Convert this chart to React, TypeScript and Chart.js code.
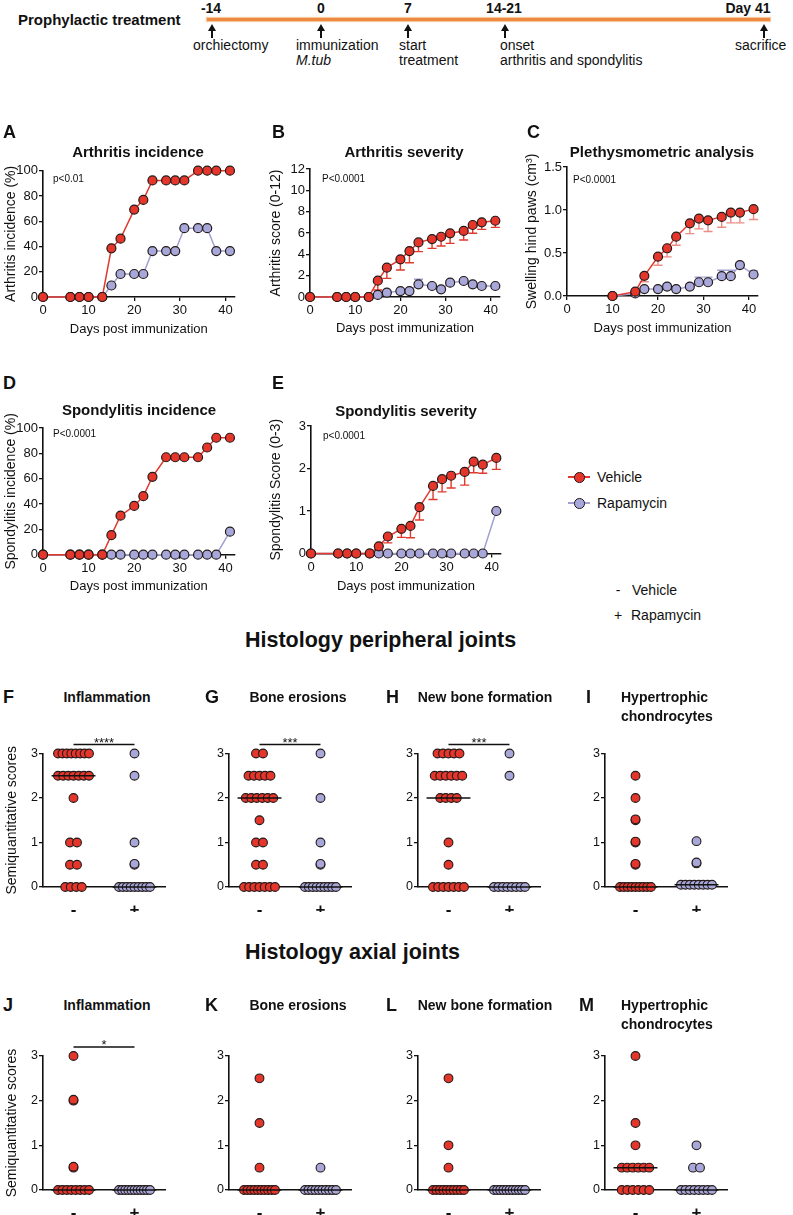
import React, { useEffect, useRef } from 'react';
import { Chart, registerables } from 'chart.js';

Chart.register(...registerables);

const FONT = '"Liberation Sans", Arial, Helvetica, sans-serif';
Chart.defaults.font.family = FONT;
Chart.defaults.color = '#111';

const RED = '#E4362B';
const RED_LINE = '#E0392E';
const RED_ERR_LIGHT = '#EC8D84';
const BLUE = '#A7A8D9';
const BLUE_LINE = '#A0A1D2';
const EDGE = '#241a1a';
const INK = '#111';

// ---------------- Data: disease course ----------------
const days = [0, 6, 8, 10, 13, 15, 17, 20, 22, 24, 27, 29, 31, 34, 36, 38, 41];
const daysPlethysmometry = [10, 15, 17, 20, 22, 24, 27, 29, 31, 34, 36, 38, 41];
const dayTicks = [0, 10, 20, 30, 40];

const arthritisIncidenceVehicle = [0, 0, 0, 0, 0, 38.5, 46.2, 69.2, 76.9, 92.3, 92.3, 92.3, 92.3, 100, 100, 100, 100];
const arthritisIncidenceRapamycin = [0, 0, 0, 0, 0, 9.1, 18.2, 18.2, 18.2, 36.4, 36.4, 36.4, 54.5, 54.5, 54.5, 36.4, 36.4];

const arthritisScoreVehicle = [0, 0, 0, 0, 0, 1.53, 2.75, 3.53, 4.31, 5.12, 5.43, 5.65, 5.97, 6.19, 6.75, 7.0, 7.15];
const arthritisScoreVehicleSem = [0, 0, 0, 0, 0, 0.87, 1.0, 1.0, 1.1, 0.87, 0.87, 0.87, 0.94, 0.85, 0.78, 0.66, 0.62];
const arthritisScoreRapamycin = [0, 0, 0, 0, 0, 0.19, 0.41, 0.56, 0.56, 1.19, 1.03, 0.72, 1.34, 1.5, 1.19, 1.03, 1.03];
const arthritisScoreRapamycinSem = [0, 0, 0, 0, 0, 0.08, 0.12, 0.15, 0.12, 0.47, 0.2, 0.15, 0.2, 0.2, 0.15, 0.12, 0.12];

const pawSwellingVehicle = [0, 0.05, 0.235, 0.457, 0.555, 0.69, 0.845, 0.9, 0.88, 0.92, 0.97, 0.97, 1.01];
const pawSwellingVehicleSem = [0, 0.02, 0.07, 0.1, 0.1, 0.1, 0.12, 0.12, 0.13, 0.12, 0.12, 0.12, 0.12];
const pawSwellingRapamycin = [0, 0.03, 0.08, 0.08, 0.11, 0.08, 0.11, 0.16, 0.16, 0.23, 0.23, 0.36, 0.25];
const pawSwellingRapamycinSem = [0, 0.01, 0.02, 0.02, 0.03, 0.02, 0.03, 0.06, 0.06, 0.07, 0.07, 0.03, 0.04];

const spondylitisIncidenceVehicle = [0, 0, 0, 0, 0, 15.4, 30.8, 38.5, 46.2, 61.5, 76.9, 76.9, 76.9, 76.9, 84.6, 92.3, 92.3];
const spondylitisIncidenceRapamycin = [0, 0, 0, 0, 0, 0, 0, 0, 0, 0, 0, 0, 0, 0, 0, 0, 18.2];

const spondylitisScoreVehicle = [0, 0, 0, 0, 0, 0.17, 0.4, 0.58, 0.65, 1.09, 1.59, 1.75, 1.83, 1.92, 2.16, 2.09, 2.25];
const spondylitisScoreVehicleSem = [0, 0, 0, 0, 0, 0.1, 0.15, 0.2, 0.28, 0.3, 0.32, 0.3, 0.29, 0.31, 0.26, 0.2, 0.27];
const spondylitisScoreRapamycin = [0, 0, 0, 0, 0, 0, 0, 0, 0, 0, 0, 0, 0, 0, 0, 0, 1.0];

const percentTicks = [0, 20, 40, 60, 80, 100];
const score12Ticks = [0, 2, 4, 6, 8, 10, 12];
const pawTicks = [0, 0.5, 1.0, 1.5];
const score3Ticks = [0, 1, 2, 3];

// ---------------- Data: histology (semiquantitative scores) ----------------
const groupLabels = ['-', '+'];
const histologyTicks = [0, 1, 2, 3];

const periInflammationVehicle = [3, 3, 3, 3, 3, 3, 3, 3, 2.5, 2.5, 2.5, 2.5, 2.5, 2.5, 2.5, 2, 1, 1, 0.5, 0.5, 0, 0, 0, 0];
const periInflammationRapamycin = [3, 2.5, 1, 0.5, 0.52, 0, 0, 0, 0, 0, 0, 0, 0, 0];
const periErosionVehicle = [3, 3, 2.5, 2.5, 2.5, 2.5, 2.5, 2, 2, 2, 2, 2, 2, 1.5, 1, 1, 0.5, 0.5, 0, 0, 0, 0, 0, 0, 0];
const periErosionRapamycin = [3, 2, 1, 0.5, 0.52, 0, 0, 0, 0, 0, 0, 0, 0, 0];
const periNewBoneVehicle = [3, 3, 3, 3, 3, 2.5, 2.5, 2.5, 2.5, 2.5, 2.5, 2, 2, 2, 2, 1, 0.5, 0, 0, 0, 0, 0, 0, 0];
const periNewBoneRapamycin = [3, 2.5, 0, 0, 0, 0, 0, 0, 0, 0];
const periChondroVehicle = [2.5, 2, 1.5, 1.52, 1, 1.02, 0.5, 0.52, 0, 0, 0, 0, 0, 0, 0, 0, 0];
const periChondroRapamycin = [1.03, 0.53, 0.55, 0.05, 0.05, 0.05, 0.05, 0.05, 0.05, 0.05, 0.05];

const axialInflammationVehicle = [3, 2, 2.02, 0.5, 0.52, 0, 0, 0, 0, 0, 0, 0, 0];
const axialInflammationRapamycin = [0, 0, 0, 0, 0, 0, 0, 0, 0, 0, 0];
const axialErosionVehicle = [2.5, 1.5, 0.5, 0, 0, 0, 0, 0, 0, 0, 0, 0, 0];
const axialErosionRapamycin = [0.5, 0, 0, 0, 0, 0, 0, 0, 0, 0, 0];
const axialNewBoneVehicle = [2.5, 1, 0.5, 0, 0, 0, 0, 0, 0, 0, 0, 0, 0];
const axialNewBoneRapamycin = [0, 0, 0, 0, 0, 0, 0, 0, 0, 0, 0];
const axialChondroVehicle = [3, 1.5, 1, 0.5, 0.5, 0.5, 0.5, 0.5, 0.5, 0, 0, 0, 0, 0, 0];
const axialChondroRapamycin = [1, 0.5, 0.5, 0, 0, 0, 0, 0, 0, 0, 0];

// ---------------- Timeline ----------------
const timelineTicks = ['-14', '0', '7', '14-21', 'Day 41'];
const timelineEvents = [['orchiectomy'], ['immunization', 'M.tub'], ['start', 'treatment'], ['onset', 'arthritis and spondylitis'], ['sacrifice']];

// ---------------- Layout ----------------
const DAY_MAX = 42;
const TL_TICK_X = [211, 321, 408, 504, 748];
const TL_ARROW_X = [212, 321, 408, 505, 764];
const TL_EVENT_X = [193, 296, 399, 500, 735];

type Frame = {
  left: number; top: number; width: number; height: number;
  yWidth: number; xHeight: number; padTop: number; padRight: number;
  yTitlePad: number; xTitlePad: number;
};

function makeFrame(area: number[], opts: { yTitleX?: number; xTitleY?: number; padTop: number; padRight: number; bottomSpace?: number; leftSpace?: number; yTitleSize?: number; xTitleSize?: number }): Frame {
  const [l, t, r, b] = area;
  let left: number; let yTitlePad = 0;
  if (opts.yTitleX !== undefined) {
    const lh = (opts.yTitleSize || 14) * 1.2;
    const exact = opts.yTitleX - lh / 2;
    left = Math.floor(exact);
    yTitlePad = exact - left;
  } else {
    left = Math.floor(l - (opts.leftSpace || 24));
  }
  const top = Math.floor(t - opts.padTop);
  const right = Math.ceil(r + opts.padRight);
  let bottom: number; let xTitlePad = 0;
  if (opts.xTitleY !== undefined) {
    const lh = (opts.xTitleSize || 13) * 1.2;
    const exact = opts.xTitleY + lh / 2;
    bottom = Math.ceil(exact);
    xTitlePad = bottom - exact;
  } else {
    bottom = Math.ceil(b + (opts.bottomSpace || 25));
  }
  return {
    left, top, width: right - left, height: bottom - top,
    yWidth: l - left, xHeight: bottom - b, padTop: t - top, padRight: right - r,
    yTitlePad, xTitlePad,
  };
}

function errorBarPlugin(sets: { index: number; errors: number[]; dir: number; color: string }[]) {
  return {
    id: 'errorBars',
    beforeDatasetsDraw(chart: any) {
      const { ctx } = chart;
      const y = chart.scales.y;
      ctx.save();
      sets.forEach((set) => {
        const meta = chart.getDatasetMeta(set.index);
        const data = chart.data.datasets[set.index].data;
        meta.data.forEach((pt: any, i: number) => {
          const e = set.errors[i];
          if (!e) return;
          const end = y.getPixelForValue(data[i].y + set.dir * e);
          ctx.strokeStyle = set.color;
          ctx.lineWidth = 1.4;
          ctx.beginPath();
          ctx.moveTo(pt.x, pt.y);
          ctx.lineTo(pt.x, end);
          ctx.moveTo(pt.x - 4.5, end);
          ctx.lineTo(pt.x + 4.5, end);
          ctx.stroke();
        });
      });
      ctx.restore();
    },
  };
}

function bracketPlugin(level: number) {
  return {
    id: 'sigBracket',
    afterDatasetsDraw(chart: any) {
      const { ctx } = chart;
      const { x, y } = chart.scales;
      const yy = y.getPixelForValue(level);
      ctx.save();
      ctx.strokeStyle = INK;
      ctx.lineWidth = 1.5;
      ctx.beginPath();
      ctx.moveTo(x.getPixelForValue(0), yy);
      ctx.lineTo(x.getPixelForValue(1), yy);
      ctx.stroke();
      ctx.restore();
    },
  };
}

function ChartCanvas({ frame, build }: { frame: Frame; build: () => any }) {
  const ref = useRef<HTMLCanvasElement | null>(null);
  useEffect(() => {
    const chart = new Chart(ref.current as HTMLCanvasElement, build());
    return () => chart.destroy();
  }, []);
  return (
    <canvas
      ref={ref}
      width={frame.width}
      height={frame.height}
      style={{ position: 'absolute', left: frame.left, top: frame.top, width: frame.width, height: frame.height }}
    />
  );
}

const axisGrid = { display: true, drawOnChartArea: false, drawTicks: true, tickLength: 4, color: INK, lineWidth: 1.3 };
const axisBorder = { display: true, color: INK, width: 1.6 };

type LinePanel = {
  key: string;
  x: number[];
  vehicle: number[];
  rapamycin: number[];
  vehicleErr?: number[];
  rapamycinErr?: number[];
  errColor?: string;
  yMax: number;
  yTicks: number[];
  decimals: number;
  yTitle: string;
  area: number[];
  yTitleX: number;
  xTitleY: number;
};

const linePanels: LinePanel[] = [
  { key: 'A', x: days, vehicle: arthritisIncidenceVehicle, rapamycin: arthritisIncidenceRapamycin, yMax: 100, yTicks: percentTicks, decimals: 0, yTitle: 'Arthritis incidence (%)', area: [43, 170.7, 43 + DAY_MAX * 4.56, 297], yTitleX: 11, xTitleY: 329 },
  { key: 'B', x: days, vehicle: arthritisScoreVehicle, rapamycin: arthritisScoreRapamycin, vehicleErr: arthritisScoreVehicleSem, rapamycinErr: arthritisScoreRapamycinSem, errColor: RED_LINE, yMax: 12, yTicks: score12Ticks, decimals: 0, yTitle: 'Arthritis score (0-12)', area: [310, 169, 310 + DAY_MAX * 4.52, 297], yTitleX: 276, xTitleY: 328 },
  { key: 'C', x: daysPlethysmometry, vehicle: pawSwellingVehicle, rapamycin: pawSwellingRapamycin, vehicleErr: pawSwellingVehicleSem, rapamycinErr: pawSwellingRapamycinSem, errColor: RED_ERR_LIGHT, yMax: 1.5, yTicks: pawTicks, decimals: 1, yTitle: 'Swelling hind paws (cm³)', area: [567, 167, 567 + DAY_MAX * 4.55, 296], yTitleX: 532, xTitleY: 328 },
  { key: 'D', x: days, vehicle: spondylitisIncidenceVehicle, rapamycin: spondylitisIncidenceRapamycin, yMax: 100, yTicks: percentTicks, decimals: 0, yTitle: 'Spondylitis incidence (%)', area: [43, 428, 43 + DAY_MAX * 4.56, 554.7], yTitleX: 11, xTitleY: 586 },
  { key: 'E', x: days, vehicle: spondylitisScoreVehicle, rapamycin: spondylitisScoreRapamycin, vehicleErr: spondylitisScoreVehicleSem, errColor: RED_LINE, yMax: 3, yTicks: score3Ticks, decimals: 0, yTitle: 'Spondylitis Score (0-3)', area: [311, 426, 311 + DAY_MAX * 4.52, 553.5], yTitleX: 276, xTitleY: 586 },
];

function LineChart({ p }: { p: LinePanel }) {
  const f = makeFrame(p.area, { yTitleX: p.yTitleX, xTitleY: p.xTitleY, padTop: 32, padRight: 10 });
  const build = () => {
    const sets: { index: number; errors: number[]; dir: number; color: string }[] = [];
    if (p.vehicleErr) sets.push({ index: 0, errors: p.vehicleErr, dir: -1, color: p.errColor || RED_LINE });
    if (p.rapamycinErr) sets.push({ index: 1, errors: p.rapamycinErr, dir: 1, color: BLUE_LINE });
    return {
      type: 'line',
      data: {
        datasets: [
          {
            label: 'Vehicle',
            data: p.x.map((d, i) => ({ x: d, y: p.vehicle[i] })),
            borderColor: RED_LINE, borderWidth: 1.5,
            pointBackgroundColor: RED, pointBorderColor: EDGE, pointBorderWidth: 1.2, pointRadius: 4.5,
            order: 0, clip: false, tension: 0,
          },
          {
            label: 'Rapamycin',
            data: p.x.map((d, i) => ({ x: d, y: p.rapamycin[i] })),
            borderColor: BLUE_LINE, borderWidth: 1.5,
            pointBackgroundColor: BLUE, pointBorderColor: EDGE, pointBorderWidth: 1.2, pointRadius: 4.5,
            order: 1, clip: false, tension: 0,
          },
        ],
      },
      options: {
        responsive: false,
        animation: false,
        events: [],
        layout: { padding: { top: f.padTop, right: f.padRight, left: 0, bottom: 0 } },
        plugins: { legend: { display: false }, tooltip: { enabled: false } },
        scales: {
          x: {
            type: 'linear', min: 0, max: DAY_MAX,
            afterBuildTicks: (s: any) => { s.ticks = dayTicks.map((v) => ({ value: v })); },
            afterFit: (s: any) => { s.height = f.xHeight; },
            ticks: { font: { size: 13 }, color: INK, padding: 2, maxRotation: 0, autoSkip: false },
            grid: axisGrid,
            border: axisBorder,
            title: { display: true, text: 'Days post immunization', font: { size: 13 }, color: INK, padding: { top: 0, bottom: f.xTitlePad } },
          },
          y: {
            type: 'linear', min: 0, max: p.yMax,
            afterBuildTicks: (s: any) => { s.ticks = p.yTicks.map((v) => ({ value: v })); },
            afterFit: (s: any) => { s.width = f.yWidth; },
            ticks: { font: { size: 13 }, color: INK, padding: 1, callback: (v: any) => Number(v).toFixed(p.decimals) },
            grid: axisGrid,
            border: axisBorder,
            title: { display: true, text: p.yTitle, font: { size: 14 }, color: INK, padding: { top: f.yTitlePad, bottom: 0 } },
          },
        },
      },
      plugins: [errorBarPlugin(sets)],
    };
  };
  return <ChartCanvas frame={f} build={build} />;
}

// ---------------- Scatter (histology) ----------------
const SCATTER_W = 122;
const SCATTER_X0 = [43, 229, 418, 605];
const SCATTER_ROWS = [
  { t: 753.5, b: 887, titleY: 697 },
  { t: 1056, b: 1190, titleY: 1005 },
];
const PX_PER_UNIT = SCATTER_W / 2;
const BRACKET_LEVEL = 3.2;

function swarm(values: number[], group: number) {
  const counts = new Map<number, number>();
  values.forEach((v) => counts.set(v, (counts.get(v) || 0) + 1));
  const seen = new Map<number, number>();
  return values.map((v) => {
    const n = counts.get(v) || 1;
    const i = seen.get(v) || 0;
    seen.set(v, i + 1);
    const sp = n === 1 ? 0 : n === 2 ? 7 : Math.min(5.5, 31 / (n - 1));
    return { x: group + ((i - (n - 1) / 2) * sp) / PX_PER_UNIT, y: v };
  });
}

function median(values: number[]) {
  const s = [...values].sort((a, b) => a - b);
  const m = Math.floor(s.length / 2);
  return s.length % 2 ? s[m] : (s[m - 1] + s[m]) / 2;
}

type ScatterPanel = {
  letter: string;
  title: string[];
  vehicle: number[];
  rapamycin: number[];
  stars?: string;
  col: number;
  row: number;
};

const scatterPanels: ScatterPanel[] = [
  { letter: 'F', title: ['Inflammation'], vehicle: periInflammationVehicle, rapamycin: periInflammationRapamycin, stars: '****', col: 0, row: 0 },
  { letter: 'G', title: ['Bone erosions'], vehicle: periErosionVehicle, rapamycin: periErosionRapamycin, stars: '***', col: 1, row: 0 },
  { letter: 'H', title: ['New bone formation'], vehicle: periNewBoneVehicle, rapamycin: periNewBoneRapamycin, stars: '***', col: 2, row: 0 },
  { letter: 'I', title: ['Hypertrophic', 'chondrocytes'], vehicle: periChondroVehicle, rapamycin: periChondroRapamycin, col: 3, row: 0 },
  { letter: 'J', title: ['Inflammation'], vehicle: axialInflammationVehicle, rapamycin: axialInflammationRapamycin, stars: '*', col: 0, row: 1 },
  { letter: 'K', title: ['Bone erosions'], vehicle: axialErosionVehicle, rapamycin: axialErosionRapamycin, col: 1, row: 1 },
  { letter: 'L', title: ['New bone formation'], vehicle: axialNewBoneVehicle, rapamycin: axialNewBoneRapamycin, col: 2, row: 1 },
  { letter: 'M', title: ['Hypertrophic', 'chondrocytes'], vehicle: axialChondroVehicle, rapamycin: axialChondroRapamycin, col: 3, row: 1 },
];

function scatterArea(p: ScatterPanel) {
  const r = SCATTER_ROWS[p.row];
  const x0 = SCATTER_X0[p.col];
  return [x0, r.t, x0 + SCATTER_W, r.b];
}

function ScatterChart({ p }: { p: ScatterPanel }) {
  const hasYTitle = p.col === 0;
  const f = makeFrame(scatterArea(p), hasYTitle ? { yTitleX: 12, padTop: 26, padRight: 6, bottomSpace: 25 } : { padTop: 26, padRight: 6, bottomSpace: 25, leftSpace: 24 });
  const build = () => {
    const mV = median(p.vehicle);
    const mR = median(p.rapamycin);
    const medianLine = (g: number, m: number) => ({
      data: [{ x: g - 0.36, y: m }, { x: g + 0.36, y: m }],
      borderColor: INK, borderWidth: 1.5, pointRadius: 0, showLine: true, order: 0, clip: false,
    });
    const plugins: any[] = [];
    if (p.stars) plugins.push(bracketPlugin(BRACKET_LEVEL));
    return {
      type: 'line',
      data: {
        datasets: [
          {
            label: 'Vehicle', data: swarm(p.vehicle, 0), showLine: false,
            pointBackgroundColor: RED, pointBorderColor: EDGE, pointBorderWidth: 1.1, pointRadius: 4.4,
            order: 1, clip: false,
          },
          {
            label: 'Rapamycin', data: swarm(p.rapamycin, 1), showLine: false,
            pointBackgroundColor: BLUE, pointBorderColor: EDGE, pointBorderWidth: 1.1, pointRadius: 4.4,
            order: 1, clip: false,
          },
          medianLine(0, mV),
          medianLine(1, mR),
        ],
      },
      options: {
        responsive: false,
        animation: false,
        events: [],
        layout: { padding: { top: f.padTop, right: f.padRight, left: 0, bottom: 0 } },
        plugins: { legend: { display: false }, tooltip: { enabled: false } },
        scales: {
          x: {
            type: 'linear', min: -0.5, max: 1.5,
            afterBuildTicks: (s: any) => { s.ticks = [0, 1].map((v) => ({ value: v })); },
            afterFit: (s: any) => { s.height = f.xHeight; },
            ticks: { font: { size: 17, weight: 'bold' }, color: INK, padding: 5, maxRotation: 0, autoSkip: false, callback: (_v: any, i: number) => groupLabels[i] },
            grid: { display: false },
            border: axisBorder,
          },
          y: {
            type: 'linear', min: 0, max: 3,
            afterBuildTicks: (s: any) => { s.ticks = histologyTicks.map((v) => ({ value: v })); },
            afterFit: (s: any) => { s.width = f.yWidth; },
            ticks: { font: { size: 12.5 }, color: INK, padding: 1 },
            grid: axisGrid,
            border: axisBorder,
            title: { display: hasYTitle, text: 'Semiquantitative scores', font: { size: 14 }, color: INK, padding: { top: f.yTitlePad, bottom: 0 } },
          },
        },
      },
      plugins,
    };
  };
  return <ChartCanvas frame={f} build={build} />;
}

// ---------------- Text helpers ----------------
function Txt(props: { x: number; y: number; size?: number; bold?: boolean; italic?: boolean; align?: 'left' | 'center'; children: any }) {
  const { x, y, size = 13, bold = false, italic = false, align = 'left', children } = props;
  return (
    <div
      style={{
        position: 'absolute', left: x, top: y, fontSize: size, lineHeight: 1,
        fontWeight: bold ? 700 : 400, fontStyle: italic ? 'italic' : 'normal', whiteSpace: 'nowrap',
        transform: align === 'center' ? 'translate(-50%, -50%)' : 'translate(0, -50%)',
      }}
    >
      {children}
    </div>
  );
}

function Arrow({ x }: { x: number }) {
  return (
    <div style={{ position: 'absolute', left: x - 4, top: 24, width: 8, height: 14 }}>
      <div style={{ position: 'absolute', left: 0, top: 0, width: 0, height: 0, borderLeft: '4px solid transparent', borderRight: '4px solid transparent', borderBottom: '7px solid #111' }} />
      <div style={{ position: 'absolute', left: 3, top: 6, width: 2, height: 8, background: '#111' }} />
    </div>
  );
}

function LegendMarker({ x, y, fill, line }: { x: number; y: number; fill: string; line: string }) {
  return (
    <div style={{ position: 'absolute', left: x, top: y - 6, width: 22, height: 12 }}>
      <div style={{ position: 'absolute', left: 0, top: 5.25, width: 22, height: 1.5, background: line }} />
      <div style={{ position: 'absolute', left: 6, top: 1, width: 8.6, height: 8.6, borderRadius: '50%', background: fill, border: `1.2px solid ${EDGE}` }} />
    </div>
  );
}

const linePanelText = [
  { letter: 'A', lx: 3, ly: 132, title: 'Arthritis incidence', tx: 138, ty: 151, p: 'p<0.01', px: 53, py: 179 },
  { letter: 'B', lx: 272, ly: 132, title: 'Arthritis severity', tx: 404, ty: 151, p: 'P<0.0001', px: 322, py: 179 },
  { letter: 'C', lx: 527, ly: 132, title: 'Plethysmometric analysis', tx: 662, ty: 151, p: 'P<0.0001', px: 573, py: 180 },
  { letter: 'D', lx: 3, ly: 383, title: 'Spondylitis incidence', tx: 139, ty: 409, p: 'P<0.0001', px: 53, py: 434 },
  { letter: 'E', lx: 272, ly: 383, title: 'Spondylitis severity', tx: 406, ty: 410, p: 'p<0.0001', px: 323, py: 436 },
];

const SCATTER_LETTER_X = [[3, 205, 386, 586], [3, 205, 386, 579]];
const SCATTER_TITLE_CX = [107, 298, 485];
const SCATTER_TITLE_LEFT = 621;

export default function App() {
  useEffect(() => {
    document.body.style.margin = '0';
  }, []);

  return (
    <div style={{ position: 'absolute', left: 0, top: 0, width: 793, height: 1215, background: '#fff', overflow: 'hidden', fontFamily: FONT, color: INK }}>
      {/* Timeline */}
      <Txt x={18} y={19} size={15} bold>Prophylactic treatment</Txt>
      <div style={{ position: 'absolute', left: 207, top: 17.5, width: 563, height: 3, background: '#EE8A3E', boxShadow: '0 0 1px 1px #F6C9A4' }} />
      {timelineTicks.map((t, i) => (
        <Txt key={t} x={TL_TICK_X[i]} y={8} size={14} bold align="center">{t}</Txt>
      ))}
      {TL_ARROW_X.map((x) => <Arrow key={x} x={x} />)}
      {timelineEvents.map((ev, i) =>
        ev.map((line, j) => (
          <Txt key={`${i}-${j}`} x={TL_EVENT_X[i]} y={45 + j * 15} size={14} italic={line === 'M.tub'}>{line}</Txt>
        )),
      )}

      {/* Line charts */}
      {linePanels.map((p) => <LineChart key={p.key} p={p} />)}
      {linePanelText.map((t) => (
        <React.Fragment key={t.letter}>
          <Txt x={t.lx} y={t.ly} size={18} bold>{t.letter}</Txt>
          <Txt x={t.tx} y={t.ty} size={15} bold align="center">{t.title}</Txt>
          <Txt x={t.px} y={t.py} size={10}>{t.p}</Txt>
        </React.Fragment>
      ))}

      {/* Legend */}
      <LegendMarker x={568} y={477} fill={RED} line={RED_LINE} />
      <Txt x={597} y={477} size={14}>Vehicle</Txt>
      <LegendMarker x={568} y={503} fill={BLUE} line={BLUE_LINE} />
      <Txt x={597} y={503} size={14}>Rapamycin</Txt>
      <Txt x={618} y={590} size={14} align="center">-</Txt>
      <Txt x={632} y={590} size={14}>Vehicle</Txt>
      <Txt x={618} y={615} size={14} align="center">+</Txt>
      <Txt x={631} y={615} size={14}>Rapamycin</Txt>

      {/* Histology */}
      <Txt x={245} y={641} size={21.5} bold>Histology peripheral joints</Txt>
      <Txt x={245} y={953} size={21.5} bold>Histology axial joints</Txt>
      {scatterPanels.map((p) => <ScatterChart key={p.letter} p={p} />)}
      {scatterPanels.map((p) => {
        const r = SCATTER_ROWS[p.row];
        const x0 = SCATTER_X0[p.col];
        const lineY = r.b - (BRACKET_LEVEL * (r.b - r.t)) / 3;
        return (
          <React.Fragment key={`t-${p.letter}`}>
            <Txt x={SCATTER_LETTER_X[p.row][p.col]} y={r.titleY} size={18} bold>{p.letter}</Txt>
            {p.title.length === 1 ? (
              <Txt x={SCATTER_TITLE_CX[p.col]} y={r.titleY} size={14} bold align="center">{p.title[0]}</Txt>
            ) : (
              p.title.map((line, j) => (
                <Txt key={line} x={SCATTER_TITLE_LEFT} y={r.titleY + j * 19} size={14} bold>{line}</Txt>
              ))
            )}
            {p.stars ? (
              <Txt x={x0 + PX_PER_UNIT} y={lineY - 3} size={13} align="center">{p.stars}</Txt>
            ) : null}
          </React.Fragment>
        );
      })}
    </div>
  );
}
